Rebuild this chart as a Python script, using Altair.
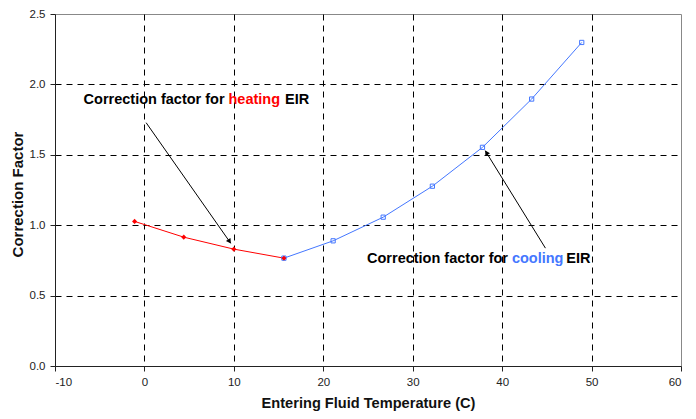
import altair as alt
import pandas as pd

heat_x = [-1.1, 4.4, 10.0, 15.6]
heat_y = [1.027, 0.915, 0.830, 0.766]
cool_x = [15.6, 21.1, 26.7, 32.2, 37.8, 43.3, 48.9]
cool_y = [0.766, 0.889, 1.057, 1.277, 1.553, 1.896, 2.298]

RED = "#FF0000"
BLUE = "#4477FF"
FONT = "Liberation Sans"

heat = pd.DataFrame({"x": heat_x, "y": heat_y})
cool = pd.DataFrame({"x": cool_x, "y": cool_y})

xs = alt.Scale(domain=[-10, 60], nice=False, zero=False)
ys = alt.Scale(domain=[0, 2.5], nice=False)

grid_op_x = {"condition": {"test": "datum.value >= 60 || datum.value <= -10", "value": 0}, "value": 1}
grid_op_y = {"condition": {"test": "datum.value >= 2.5 || datum.value <= 0", "value": 0}, "value": 1}

xax = alt.Axis(title="Entering Fluid Temperature (C)", values=list(range(-10, 61, 10)),
               labelExpr="replace(datum.label, '\u2212', '-')",
               grid=True, gridDash=[6, 5], gridColor="#000000", gridOpacity=grid_op_x,
               domainColor="#222222", tickColor="#222222", tickSize=5,
               labelFont=FONT, labelFontSize=11.5, labelColor="#222222", labelPadding=5,
               titleFont=FONT, titleFontSize=14.6, titleFontWeight="bold", titleColor="#111111",
               titlePadding=8)
yax = alt.Axis(title="Correction Factor", values=[0, 0.5, 1.0, 1.5, 2.0, 2.5], format=".1f",
               grid=True, gridDash=[6, 5], gridColor="#000000", gridOpacity=grid_op_y,
               domainColor="#222222", tickColor="#222222", tickSize=5,
               labelFont=FONT, labelFontSize=11.5, labelColor="#222222", labelPadding=5,
               titleFont=FONT, titleFontSize=15, titleFontWeight="bold", titleColor="#111111",
               titleX=-30, titleY=180)

heat_line = alt.Chart(heat).mark_line(color=RED, strokeWidth=1).encode(
    x=alt.X("x:Q", scale=xs, axis=xax), y=alt.Y("y:Q", scale=ys, axis=yax))
heat_pts = alt.Chart(heat).mark_point(shape="diamond", filled=True, color=RED, size=26, opacity=1).encode(
    x=alt.X("x:Q", scale=xs), y=alt.Y("y:Q", scale=ys))
cool_line = alt.Chart(cool).mark_line(color=BLUE, strokeWidth=1).encode(
    x=alt.X("x:Q", scale=xs), y=alt.Y("y:Q", scale=ys))
cool_pts = alt.Chart(cool).mark_point(shape="square", filled=False, color=BLUE, size=18, strokeWidth=1, opacity=1).encode(
    x=alt.X("x:Q", scale=xs), y=alt.Y("y:Q", scale=ys))
heat_last = alt.Chart(heat.tail(1)).mark_point(shape="diamond", filled=True, color=RED, size=20, opacity=1).encode(
    x=alt.X("x:Q", scale=xs), y=alt.Y("y:Q", scale=ys))

# arrows (start -> end, in data units)
arrows = pd.DataFrame({
    "x": [0.19, 44.84], "y": [1.728, 0.837],
    "x2": [9.65, 38.11], "y2": [0.872, 1.529],
    "hx": [9.47, 38.29], "hy": [0.889, 1.511],
    "angle": [145, 328],
})
arrow_lines = alt.Chart(arrows).mark_rule(color="#000000", strokeWidth=1).encode(
    x=alt.X("x:Q", scale=xs), y=alt.Y("y:Q", scale=ys), x2="x2:Q", y2="y2:Q")
arrow_heads = alt.Chart(arrows).mark_point(shape="triangle", filled=True, color="#000000", size=30, opacity=1).encode(
    x=alt.X("hx:Q", scale=xs), y=alt.Y("hy:Q", scale=ys), angle=alt.Angle("angle:Q", scale=None))

# annotations (segments with coloured words)
ann = pd.DataFrame({
    "x": [-6.80, 9.40, 15.72, 24.89, 41.09, 47.18],
    "y": [1.889, 1.889, 1.889, 0.761, 0.761, 0.761],
    "t": ["Correction factor for", "heating", "EIR", "Correction factor for", "cooling", "EIR"],
    "c": ["#000000", RED, "#000000", "#000000", BLUE, "#000000"],
})
ann_text = alt.Chart(ann).mark_text(font=FONT, fontSize=14.5, fontWeight="bold", align="left", baseline="middle").encode(
    x=alt.X("x:Q", scale=xs), y=alt.Y("y:Q", scale=ys), text="t:N", color=alt.Color("c:N", scale=None))

chart = alt.layer(heat_line, cool_line, heat_pts, cool_pts, heat_last, arrow_lines, arrow_heads, ann_text).properties(
    width=626, height=352,
    autosize=alt.AutoSizeParams(type="none"),
    padding={"left": 47, "top": 6, "right": 7, "bottom": 45},
).configure_view(stroke="#888888", strokeWidth=1)

chart.save("out.html", embed_options={"renderer": "svg", "actions": False})
